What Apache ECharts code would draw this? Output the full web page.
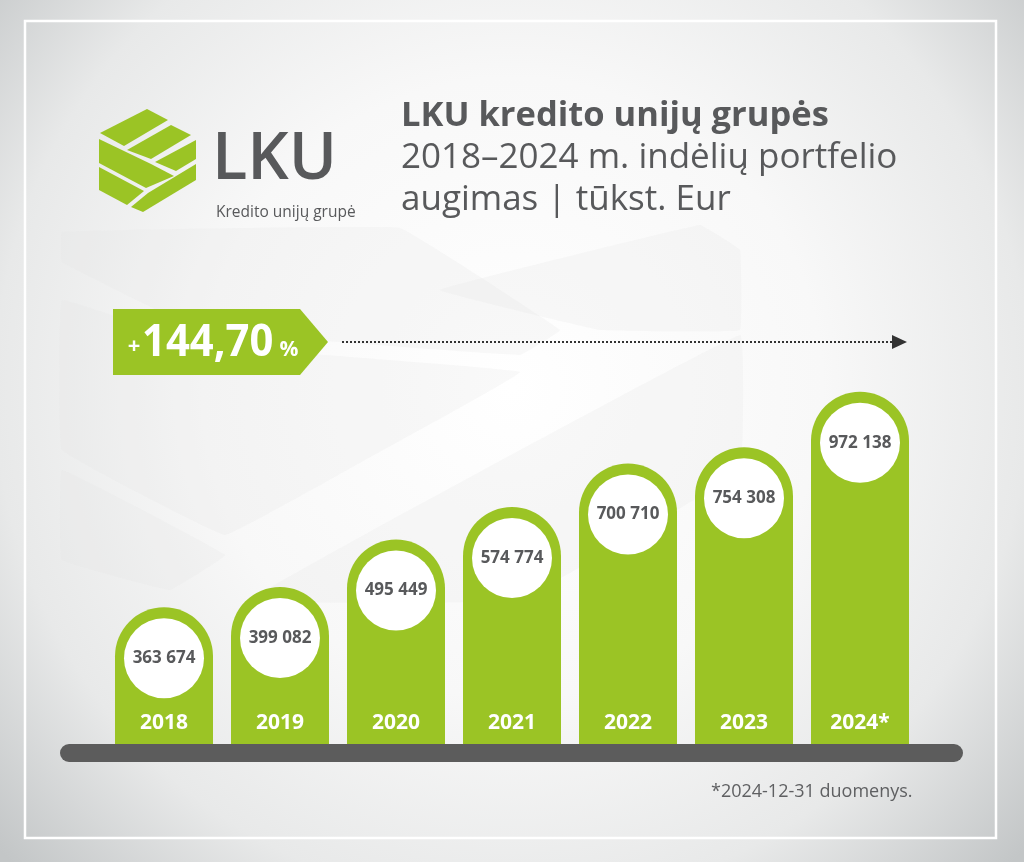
<!DOCTYPE html>
<html>
<head>
<meta charset="utf-8">
<script src="https://cdn.jsdelivr.net/npm/echarts@6/dist/echarts.min.js"></script>
<style>
html,body{margin:0;padding:0;background:#fff;}
#chart{width:1024px;height:862px;}
</style>
</head>
<body>
<div id="chart"></div>
<script>
// ---- data (tūkst. Eur) ----
var years = ['2018', '2019', '2020', '2021', '2022', '2023', '2024*'];
var deposits = [363674, 399082, 495449, 574774, 700710, 754308, 972138];
var growthLabel = '144,70';
var footnote = '*2024-12-31 duomenys.';
var titleLines = ['LKU kredito unijų grupės', '2018–2024 m. indėlių portfelio', 'augimas | tūkst. Eur'];

var GREEN = '#9bc425';
var GRAY = '#58595b';
var Y_MIN = 195000, Y_MAX = 1450000;

function fmt(v) { return String(Math.round(v)).replace(/\B(?=(\d{3})+(?!\d))/g, ' '); }

var chart = echarts.init(document.getElementById('chart'), null, {renderer: 'canvas'});

var seriesData = deposits.map(function (v, i) { return [i, v]; });

var font = '"Open Sans", "Noto Sans", sans-serif';
var GHOST = 'rgba(226,226,226,0.22)';

var graphics = [
  // background
  {type: 'rect', z: -10, shape: {x: 0, y: 0, width: 1024, height: 862},
   style: {fill: new echarts.graphic.RadialGradient(0.5, 0.45, 0.8, [
     {offset: 0, color: '#ffffff'}, {offset: 0.45, color: '#f8f8f8'},
     {offset: 0.75, color: '#e8e9e9'}, {offset: 1, color: '#c3c6c7'}])}},
  // faint ghost-logo shapes
  {type: 'polygon', z: -9, shape: {points: [[62, 232], [62, 262], [200, 330], [520, 355], [560, 330], [400, 228]], smooth: 0.05},
   style: {fill: GHOST}},
  {type: 'polygon', z: -9, shape: {points: [[62, 300], [200, 345], [520, 372], [365, 460], [225, 535], [62, 450]], smooth: 0.05},
   style: {fill: GHOST}},
  {type: 'polygon', z: -9, shape: {points: [[62, 470], [225, 555], [170, 590], [62, 560]], smooth: 0.05},
   style: {fill: GHOST}},
  {type: 'polygon', z: -9, shape: {points: [[440, 290], [700, 225], [740, 250], [740, 330], [600, 330]], smooth: 0.05},
   style: {fill: GHOST}},
  {type: 'polygon', z: -9, shape: {points: [[250, 600], [740, 335], [740, 470], [520, 600]], smooth: 0.05},
   style: {fill: GHOST}},
  // frame
  {type: 'rect', z: -8, shape: {x: 25, y: 21, width: 971, height: 817},
   style: {fill: 'none', stroke: '#ffffff', lineWidth: 2.5}},
  // logo pieces
  {type: 'polygon', shape: {points: [[100, 133], [147, 109], [168, 120], [124, 146]]}, style: {fill: GREEN}},
  {type: 'polygon', shape: {points: [[127, 150], [171, 125], [191, 135], [151, 159]]}, style: {fill: GREEN}},
  {type: 'polygon', shape: {points: [[155, 162], [196, 140], [196, 159], [176, 171]]}, style: {fill: GREEN}},
  {type: 'polygon', shape: {points: [[99, 139], [124, 151], [151, 164], [174, 176], [146, 188], [99, 163]]}, style: {fill: GREEN}},
  {type: 'polygon', shape: {points: [[99, 167], [144, 191], [127, 205], [99, 190]]}, style: {fill: GREEN}},
  {type: 'polygon', shape: {points: [[131, 207], [148, 193], [196, 164], [196, 180], [143, 212]]}, style: {fill: GREEN}},
  {type: 'text', style: {x: 212, y: 160, text: 'LKU', fill: GRAY, font: '600 65px ' + font, align: 'left', verticalAlign: 'middle'}},
  {type: 'text', style: {x: 216, y: 213, text: 'Kredito unijų grupė', fill: GRAY, font: '400 15.5px ' + font, align: 'left', verticalAlign: 'middle'}},
  // title
  {type: 'text', style: {x: 401, y: 116, text: titleLines[0], fill: GRAY, font: '700 34.5px ' + font, align: 'left', verticalAlign: 'middle'}},
  {type: 'text', style: {x: 401, y: 158, text: titleLines[1], fill: GRAY, font: '400 35px ' + font, align: 'left', verticalAlign: 'middle'}},
  {type: 'text', style: {x: 401, y: 200, text: titleLines[2], fill: GRAY, font: '400 35px ' + font, align: 'left', verticalAlign: 'middle'}},
  // growth badge
  {type: 'polygon', shape: {points: [[113, 309], [300, 309], [328, 342], [300, 375], [113, 375]]}, style: {fill: GREEN}},
  {type: 'text', style: {x: 134, y: 347, text: '+', fill: '#fff', font: '700 22px ' + font, align: 'center', verticalAlign: 'middle'}},
  {type: 'text', x: 142, y: 343, scaleX: 0.95, style: {x: 0, y: 0, text: growthLabel, fill: '#fff', font: '700 44px ' + font, align: 'left', verticalAlign: 'middle'}},
  {type: 'text', style: {x: 289, y: 350, text: '%', fill: '#fff', font: '700 21px ' + font, align: 'center', verticalAlign: 'middle'}},
  // dotted arrow
  {type: 'line', shape: {x1: 342, y1: 342, x2: 893, y2: 342}, style: {stroke: '#333', lineWidth: 2, lineDash: [2, 2]}},
  {type: 'polygon', shape: {points: [[892, 335], [907, 342], [892, 349]]}, style: {fill: '#333'}},
  // base bar
  {type: 'rect', shape: {x: 60, y: 744, width: 903, height: 18, r: 9}, style: {fill: '#5c5c5c'}},
  // footnote
  {type: 'text', style: {x: 711, y: 792, text: footnote, fill: '#5f6062', font: '400 18px ' + font, align: 'left', verticalAlign: 'middle'}}
];

var option = {
  animation: false,
  grid: {left: 106, right: 106, top: 304, bottom: 118},
  xAxis: {type: 'category', data: years, show: false},
  yAxis: {type: 'log', min: Y_MIN, max: Y_MAX, show: false},
  graphic: graphics,
  series: [{
    type: 'custom',
    data: seriesData,
    z: 5,
    renderItem: function (params, api) {
      var i = api.value(0), v = api.value(1);
      var top = api.coord([i, v]);
      var base = api.coord([i, Y_MIN]);
      var w = 98, r = w / 2;
      var cy = top[1] + 51;
      return {
        type: 'group',
        children: [
          {type: 'rect', shape: {x: top[0] - r, y: top[1], width: w, height: base[1] - top[1], r: [r, r, 0, 0]}, style: {fill: GREEN}},
          {type: 'circle', shape: {cx: top[0], cy: cy, r: 40}, style: {fill: '#ffffff'}},
          {type: 'text', style: {x: top[0], y: cy, text: fmt(v), fill: GRAY, font: '700 17px ' + font, align: 'center', verticalAlign: 'middle'}},
          {type: 'text', style: {x: top[0], y: base[1] - 21, text: years[i], fill: '#ffffff', font: '700 21px ' + font, align: 'center', verticalAlign: 'middle'}}
        ]
      };
    }
  }]
};
chart.setOption(option);
</script>
</body>
</html>
